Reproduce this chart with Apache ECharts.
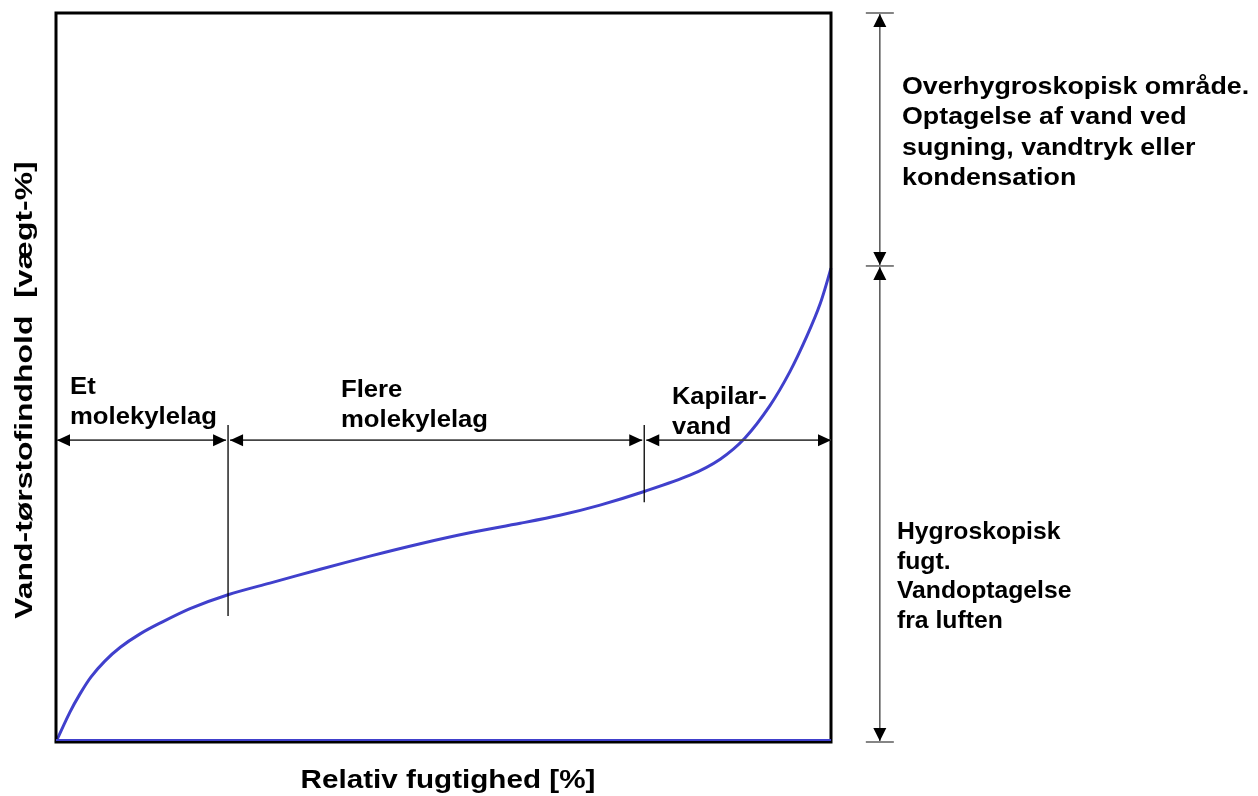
<!DOCTYPE html>
<html><head><meta charset="utf-8">
<script src="https://cdn.jsdelivr.net/npm/echarts@6/dist/echarts.min.js"></script>
<style>html,body{margin:0;padding:0;background:#fff}#c{width:1258px;height:796px}</style>
</head><body><div id="c"></div>
<script>
// Sorption curve (relative humidity % vs. water content, arbitrary scale 0-100)
const relHumidity  = [0, 1.8, 3.1, 4.5, 6.3, 8.3, 10.8, 13.4, 17.3, 22.2, 27.6, 34.1, 40.5, 47.0, 53.4, 59.9, 65.0, 70.2, 76.0, 81.8, 85.7, 88.9, 92.1, 94.7, 96.9, 98.6, 100];
const waterContent = [0, 4.1, 6.6, 8.9, 11.1, 13.0, 14.8, 16.3, 18.3, 20.2, 21.8, 23.7, 25.5, 27.2, 28.7, 30.0, 31.1, 32.5, 34.4, 36.6, 38.8, 41.7, 46.1, 50.8, 55.7, 60.1, 65.0];

// Zone boundaries along relative humidity, and the level of the zone arrows
const zoneBounds = [0, 22.2, 75.9, 100];
const zoneArrowLevel = 41.4;
const separatorTop = 43.5;
const separatorBottoms = [17.3, 32.9];
const zoneLabels = ['Et\nmolekylelag', 'Flere\nmolekylelag', 'Kapilar-\nvand'];

// Right-side dimension: boundary between hygroscopic / over-hygroscopic ranges
const rightDimX = 106.3;
const rightDimLevels = [0, 65.3, 100];
const rightLabels = ['Overhygroskopisk område.\nOptagelse af vand ved\nsugning, vandtryk eller\nkondensation',
                     'Hygroskopisk\nfugt.\nVandoptagelse\nfra luften'];

const xTitle = 'Relativ fugtighed [%]';
const yTitle = 'Vand-tørstofindhold  [vægt-%]';

const chart = echarts.init(document.getElementById('c'), null, {renderer: 'canvas'});
const curve = relHumidity.map((x, i) => [x, waterContent[i]]);
const FONT = '"Liberation Sans", Arial, sans-serif';

chart.setOption({
  animation: false,
  backgroundColor: '#fff',
  grid: {left: 56, right: 427, top: 13, bottom: 54, show: true, borderColor: '#000', borderWidth: 3, backgroundColor: 'transparent', z: 5},
  xAxis: {type: 'value', min: 0, max: 100, axisLine: {show: false}, axisTick: {show: false}, axisLabel: {show: false}, splitLine: {show: false}},
  yAxis: {type: 'value', min: 0, max: 100, axisLine: {show: false}, axisTick: {show: false}, axisLabel: {show: false}, splitLine: {show: false}},
  series: [{
    type: 'line', data: curve, smooth: 0.3, showSymbol: false, symbol: 'none', clip: true,
    lineStyle: {color: '#4040cc', width: 3}, z: 3,
    markLine: {silent: true, symbol: 'none', animation: false, label: {show: false},
      lineStyle: {color: '#4040cc', width: 2, type: 'solid'}, data: [{yAxis: 0.25}]}
  }]
});

const P = (x, y) => chart.convertToPixel({xAxisIndex: 0, yAxisIndex: 0}, [x, y]);

const G = [];
const lineEl = (a, b, color, w) => G.push({type: 'line', z: 10, shape: {x1: a[0], y1: a[1], x2: b[0], y2: b[1]}, style: {stroke: color, lineWidth: w}});
const tri = (tip, from, len, hw) => {
  const dx = tip[0] - from[0], dy = tip[1] - from[1];
  const d = Math.hypot(dx, dy) || 1;
  const ux = dx / d, uy = dy / d, px = -uy, py = ux;
  const bx = tip[0] - ux * len, by = tip[1] - uy * len;
  G.push({type: 'polygon', z: 11, shape: {points: [[tip[0], tip[1]], [bx + px * hw, by + py * hw], [bx - px * hw, by - py * hw]]}, style: {fill: '#000'}});
};
const dblArrow = (a, b, color, w, len, hw) => { lineEl(a, b, color, w); tri(a, b, len, hw); tri(b, a, len, hw); };

// horizontal zone arrows
for (let i = 0; i < zoneBounds.length - 1; i++) {
  const a = P(zoneBounds[i], zoneArrowLevel), b = P(zoneBounds[i + 1], zoneArrowLevel);
  const ga = i === 0 ? 1 : 2, gb = i === zoneBounds.length - 2 ? 0 : 2;
  dblArrow([a[0] + ga, a[1]], [b[0] - gb, b[1]], '#444', 1.8, 13, 6);
}
// separators
[1, 2].forEach((k, j) => {
  const t = P(zoneBounds[k], separatorTop), b = P(zoneBounds[k], separatorBottoms[j]);
  lineEl(t, b, '#000', 1.3);
});
// right dimension lines
const r0 = P(rightDimX, rightDimLevels[0]), r1 = P(rightDimX, rightDimLevels[1]), r2 = P(rightDimX, rightDimLevels[2]);
[r0, r1, r2].forEach(p => lineEl([p[0] - 14, p[1]], [p[0] + 14, p[1]], '#333', 1.2));
dblArrow([r2[0], r2[1] + 1], [r1[0], r1[1] - 1], '#555', 1.5, 13, 6.5);
dblArrow([r1[0], r1[1] + 1], [r0[0], r0[1] - 1], '#555', 1.5, 13, 6.5);

// texts
const txt = (s, x, y, size, sx, lh) => G.push({
  type: 'text', z: 12, x: x, y: y, scaleX: sx,
  style: {text: s, font: 'bold ' + size + 'px ' + FONT, fill: '#000', lineHeight: lh, textAlign: 'left', textVerticalAlign: 'top'}
});
txt(zoneLabels[0], 70, 372, 24, 1.07, 30);
txt(zoneLabels[1], 341, 375, 24, 1.07, 30);
txt(zoneLabels[2], 672, 382, 24, 1.06, 30);
txt(rightLabels[0], 902, 72, 24, 1.117, 30.5);
txt(rightLabels[1], 897, 518, 24, 1.03, 29.5);
G.push({type: 'text', z: 12, x: 448, y: 781, scaleX: 1.14,
  style: {text: xTitle, font: 'bold 26px ' + FONT, fill: '#000', textAlign: 'center', textVerticalAlign: 'middle'}});
G.push({type: 'text', z: 12, x: 25, y: 390, rotation: Math.PI / 2, scaleX: 1.33,
  style: {text: yTitle, font: 'bold 24px ' + FONT, fill: '#000', textAlign: 'center', textVerticalAlign: 'middle'}});

chart.setOption({graphic: G});
</script>
</body></html>
